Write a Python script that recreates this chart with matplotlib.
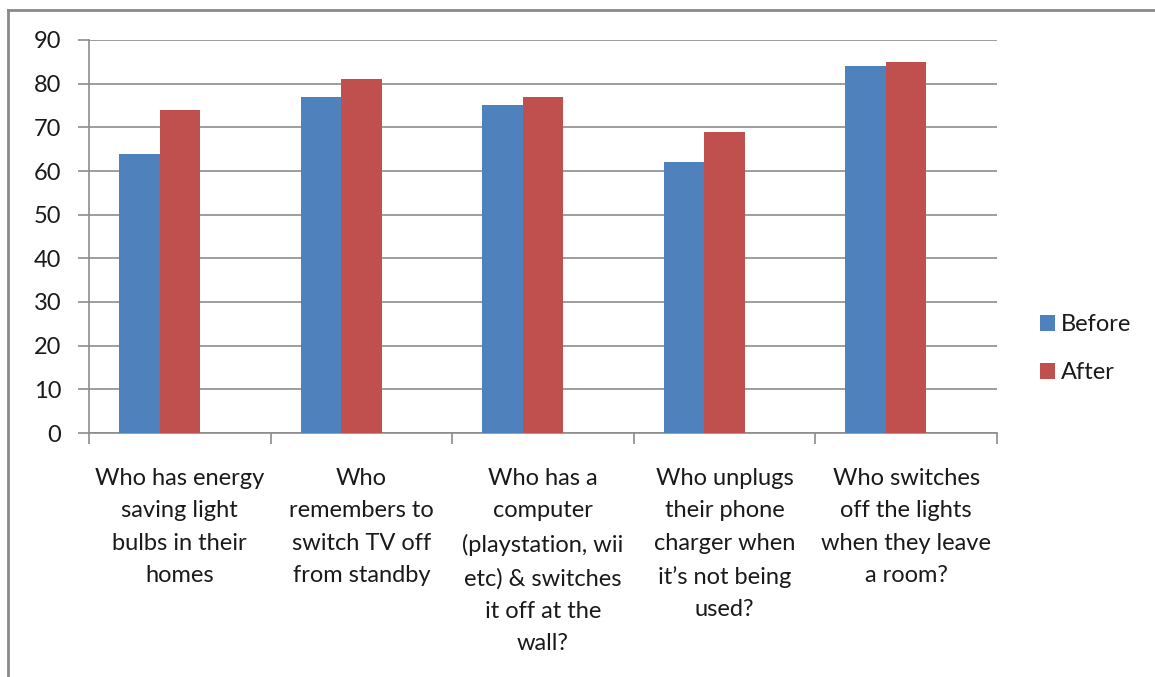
import matplotlib
matplotlib.use("Agg")
import matplotlib.pyplot as plt
import numpy as np
from matplotlib.lines import Line2D

categories = [
    "Who has energy\nsaving light\nbulbs in their\nhomes",
    "Who\nremembers to\nswitch TV off\nfrom standby",
    "Who has a\ncomputer\n(playstation, wii\netc) & switches\nit off at the\nwall?",
    "Who unplugs\ntheir phone\ncharger when\nit\u2019s not being\nused?",
    "Who switches\noff the lights\nwhen they leave\na room?",
]
before = [64, 77, 75, 62, 84]
after = [74, 81, 77, 69, 85]
y_ticks = [0, 10, 20, 30, 40, 50, 60, 70, 80, 90]

BLUE = "#4F81BD"
RED = "#C0504D"
GRID = "#8C8C8C"
TEXT = "#1A1A1A"

plt.rcParams["font.family"] = ["Lato", "DejaVu Sans"]

fig = plt.figure(figsize=(11.55, 6.77), dpi=100)
ax = fig.add_axes([89 / 1155, 1 - 433 / 677, (997 - 89) / 1155, (433 - 40) / 677])

# three slots per category, the third one left empty
x = np.arange(len(categories))
w = 0.223
ax.bar(x - w, before, w, color=BLUE, label="Before", zorder=3)
ax.bar(x, after, w, color=RED, label="After", zorder=3)

ax.set_xlim(-0.5, len(categories) - 0.5)
ax.set_ylim(0, 90)
ax.set_yticks(y_ticks)
ax.yaxis.grid(True, color=GRID, linewidth=1.2, zorder=0)
ax.tick_params(axis="y", length=8, width=1.2, color=GRID, pad=12,
               labelsize=17, labelcolor=TEXT)

# category labels centred, ticks at the boundaries
ax.set_xticks(x)
ax.set_xticklabels(categories, fontsize=17, linespacing=1.68, va="top", color=TEXT)
ax.tick_params(axis="x", length=0, pad=25)
ax.set_xticks(np.arange(-0.5, len(categories)), minor=True)
ax.tick_params(axis="x", which="minor", length=8, width=1.2, color=GRID)

for side in ["top", "right"]:
    ax.spines[side].set_visible(False)
for side in ["left", "bottom"]:
    ax.spines[side].set_color(GRID)
    ax.spines[side].set_linewidth(1.2)

leg = ax.legend(loc="center left", bbox_to_anchor=(1.024, 0.215), frameon=False,
                fontsize=17, handlelength=0.65, handleheight=0.65,
                handletextpad=0.25, labelspacing=1.15)
for t in leg.get_texts():
    t.set_color(TEXT)

# outer chart frame
fx = 8 / 1155
fy = 1 - 10 / 677
fig.add_artist(Line2D([fx, fx], [0, fy], color="#8A8A8A", linewidth=2.0, transform=fig.transFigure))
fig.add_artist(Line2D([fx, 1], [fy, fy], color="#8A8A8A", linewidth=2.0, transform=fig.transFigure))

fig.savefig("out.png", dpi=100)
